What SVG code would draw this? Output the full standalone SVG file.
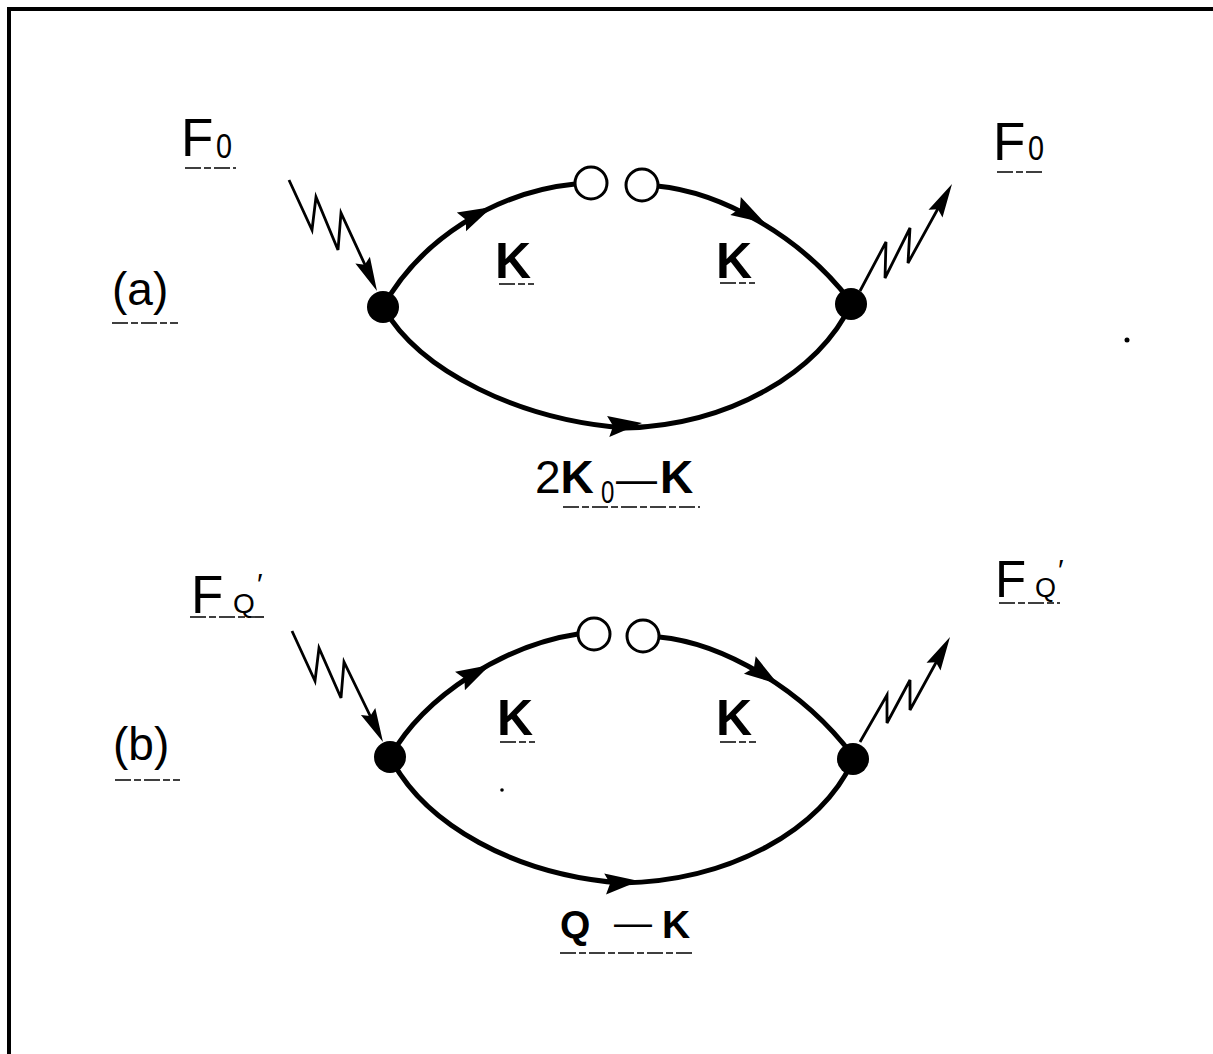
<svg xmlns="http://www.w3.org/2000/svg" xmlns:xlink="http://www.w3.org/1999/xlink" width="1213" height="1054" viewBox="0 0 1213 1054">
<style>
.line{fill:none;stroke:#000;stroke-width:5;stroke-linecap:round}
.wave{fill:none;stroke:#000;stroke-width:2.8;stroke-linejoin:miter}
.ring{fill:#fff;stroke:#000;stroke-width:3}
.dot{fill:#000}
.ul{stroke:#000;stroke-width:1.6;stroke-dasharray:16 3 7 3}
.t{font-family:"Liberation Sans",Arial,sans-serif;fill:#000}
.b{font-family:"Liberation Sans",Arial,sans-serif;font-weight:bold;fill:#000}
</style>
<defs>
<path id="ah" d="M0,0 L-34,-10.5 L-29,0 L-34,10.5 Z" fill="#000"/>
<path id="wh" d="M0,0 L-34,-8 L-29,0 L-34,8 Z" fill="#000"/>
</defs>
<rect width="1213" height="1054" fill="#fff"/>
<path d="M9,1054 V9 H1213" fill="none" stroke="#000" stroke-width="4"/>

<g id="connectors">
<!-- diagram (a) -->
<path class="line" d="M383,307 C420,240 495,192 575,184"/>
<use xlink:href="#ah" href="#ah" transform="translate(492,207) rotate(-26)"/>
<path class="line" d="M657,186 C720,192 800,235 851,302"/>
<use xlink:href="#ah" href="#ah" transform="translate(765,223) rotate(30)"/>
<path class="line" d="M383,307 C420,372 520,420 625,428 C730,425 820,372 851,304"/>
<use xlink:href="#ah" href="#ah" transform="translate(642,423) rotate(-6)"/>
<path class="wave" d="M289,180 L312,230 L316,197 L338,250 L341,213 L372,280"/>
<use xlink:href="#wh" href="#wh" transform="translate(377,291) rotate(65)"/>
<path class="wave" d="M860,291 L886,242 L885,278 L910,228 L908,263 L946,194"/>
<use xlink:href="#wh" href="#wh" transform="translate(952,184) rotate(-61)"/>
<!-- diagram (b) -->
<path class="line" d="M390,757 C425,695 505,645 578,634"/>
<use xlink:href="#ah" href="#ah" transform="translate(490,665) rotate(-28)"/>
<path class="line" d="M659,637 C722,643 802,688 853,756"/>
<use xlink:href="#ah" href="#ah" transform="translate(778,684) rotate(34)"/>
<path class="line" d="M390,757 C425,825 515,875 622,883 C730,881 822,830 853,760"/>
<use xlink:href="#ah" href="#ah" transform="translate(639,881) rotate(-5)"/>
<path class="wave" d="M292,631 L315,681 L319,648 L341,698 L344,662 L378,732"/>
<use xlink:href="#wh" href="#wh" transform="translate(383,742) rotate(64)"/>
<path class="wave" d="M860,742 L887,695 L887,723 L910,680 L910,710 L944,648"/>
<use xlink:href="#wh" href="#wh" transform="translate(950,637) rotate(-61)"/>
</g>

<g id="a-vertex-left"><circle class="dot" cx="383" cy="307" r="16"/></g>
<g id="a-vertex-right"><circle class="dot" cx="851" cy="304" r="16"/></g>
<g id="a-ring-left"><circle class="ring" cx="591" cy="183" r="16"/></g>
<g id="a-ring-right"><circle class="ring" cx="642" cy="185" r="16"/></g>
<g id="b-vertex-left"><circle class="dot" cx="390" cy="757" r="16"/></g>
<g id="b-vertex-right"><circle class="dot" cx="853" cy="759" r="16"/></g>
<g id="b-ring-left"><circle class="ring" cx="594" cy="634" r="16"/></g>
<g id="b-ring-right"><circle class="ring" cx="643" cy="636" r="16"/></g>

<g id="labels-a">
<text class="t" x="181" y="156" font-size="53">F</text>
<text class="t" font-size="36" transform="translate(216,158) scale(0.8,1)">0</text>
<line class="ul" x1="185" y1="168" x2="236" y2="168"/>
<text class="t" x="993" y="160" font-size="53">F</text>
<text class="t" font-size="36" transform="translate(1028,160) scale(0.8,1)">0</text>
<line class="ul" x1="997" y1="172" x2="1044" y2="172"/>
<text class="t" x="112" y="305" font-size="46">(a)</text>
<line class="ul" x1="112" y1="323" x2="178" y2="323"/>
<text class="b" x="495" y="278" font-size="50">K</text>
<line class="ul" x1="499" y1="284" x2="534" y2="284"/>
<text class="b" x="716" y="278" font-size="50">K</text>
<line class="ul" x1="720" y1="283" x2="755" y2="283"/>
<text class="t" x="535" y="493" font-size="46">2<tspan class="b">K</tspan></text>
<text class="t" font-size="32" transform="translate(601,503) scale(0.75,1)">0</text>
<text class="t" x="616" y="493" font-size="41">—</text>
<text class="b" x="660" y="493" font-size="46">K</text>
<line class="ul" x1="563" y1="507" x2="700" y2="507"/>
</g>

<g id="labels-b">
<text class="t" x="191" y="613" font-size="53">F</text>
<text class="t" x="233" y="613" font-size="28">Q</text>
<text class="t" x="257" y="594" font-size="30">′</text>
<line class="ul" x1="190" y1="617" x2="266" y2="617"/>
<text class="t" x="995" y="597" font-size="51">F</text>
<text class="t" x="1035" y="597" font-size="27">Q</text>
<text class="t" x="1058" y="580" font-size="30">′</text>
<line class="ul" x1="999" y1="603" x2="1060" y2="603"/>
<text class="t" x="113" y="760" font-size="46">(b)</text>
<line class="ul" x1="115" y1="780" x2="180" y2="780"/>
<text class="b" x="497" y="735" font-size="50">K</text>
<line class="ul" x1="500" y1="742" x2="535" y2="742"/>
<text class="b" x="716" y="735" font-size="50">K</text>
<line class="ul" x1="720" y1="742" x2="756" y2="742"/>
<text class="b" x="560" y="938" font-size="39">Q</text>
<text class="t" x="614" y="936" font-size="38">—</text>
<text class="b" x="662" y="938" font-size="39">K</text>
<line class="ul" x1="560" y1="953" x2="693" y2="953"/>
</g>

<circle cx="1127" cy="340" r="2.5" fill="#000"/>
<circle cx="502" cy="790" r="1.8" fill="#000"/>
</svg>
